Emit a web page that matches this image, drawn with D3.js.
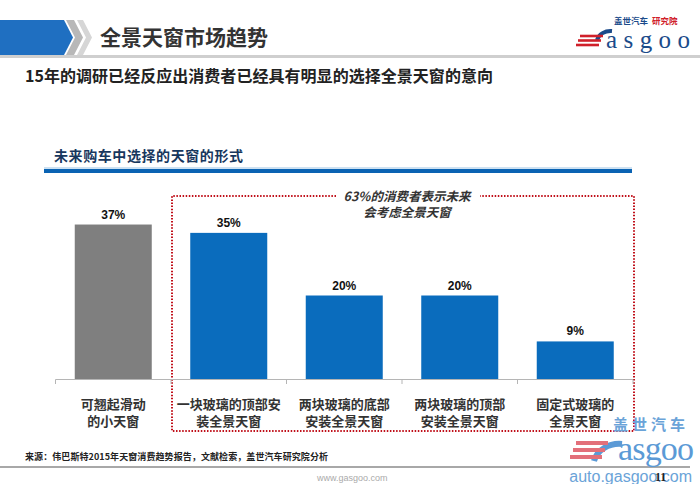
<!DOCTYPE html>
<html><head><meta charset="utf-8">
<script src="https://cdn.jsdelivr.net/npm/d3@7"></script>
<style>
html,body{margin:0;padding:0;background:#fff;}
svg{display:block;}
</style></head>
<body>
<svg id="chart" width="700" height="484"></svg>
<script>
// ---- data ----
const categories = ["可翘起滑动的小天窗","一块玻璃的顶部安装全景天窗","两块玻璃的底部安装全景天窗","两块玻璃的顶部安装全景天窗","固定式玻璃的全景天窗"];
const labelLines = [["可翘起滑动","的小天窗"],["一块玻璃的顶部安","装全景天窗"],["两块玻璃的底部","安装全景天窗"],["两块玻璃的顶部","安装全景天窗"],["固定式玻璃的","全景天窗"]];
const values = [37, 35, 20, 20, 9];
const valueLabels = ["37%","35%","20%","20%","9%"];
const title = "全景天窗市场趋势";
const headline = "15年的调研已经反应出消费者已经具有明显的选择全景天窗的意向";
const subtitle = "未来购车中选择的天窗的形式";
const boxNote = ["63%的消费者表示未来","会考虑全景天窗"];
const source = "来源：伟巴斯特2015年天窗消费趋势报告，文献检索，盖世汽车研究院分析";

const CJK = "'Noto Sans CJK SC','Noto Sans',sans-serif";
const svg = d3.select("#chart");

// ---- header ----
svg.append("rect").attr("x",0).attr("y",55).attr("width",700).attr("height",3).attr("fill","#cfcfcf");
svg.append("path").attr("d","M0,20 L64,20 L73,37.5 L64,55 L0,55 Z").attr("fill","#1f6fc1");
svg.append("path").attr("d","M66,20 L74,20 L83,37.5 L74,55 L66,55 L75,37.5 Z").attr("fill","#b8b8b8");
svg.append("path").attr("d","M77,20 L83,20 L92,37.5 L83,55 L77,55 L86,37.5 Z").attr("fill","#d6d6d6");
svg.append("text").attr("x",100).attr("y",45).attr("font-family",CJK).attr("font-weight","bold")
  .attr("font-size",21).attr("fill","#333").text(title);

// logo top-right
const logo = svg.append("g");
logo.append("text").attr("x",614).attr("y",24).attr("font-family",CJK).attr("font-weight","bold")
  .attr("font-size",8.5).attr("fill","#1b4b8a").text("盖世汽车");
logo.append("text").attr("x",652).attr("y",24).attr("font-family",CJK).attr("font-weight","bold")
  .attr("font-size",8.5).attr("fill","#d0202a").text("研究院");
logo.append("path").attr("d","M612,31 A14,12 0 0 0 597,40").attr("stroke","#1b4b8a").attr("stroke-width",4).attr("fill","none");
logo.append("text").attr("x",606).attr("y",48).attr("font-family","'Liberation Serif',serif")
  .attr("font-size",25).attr("fill","#1b4b8a").attr("textLength",84).text("asgoo");
[0,1,2].forEach(i=>logo.append("path")
  .attr("d",`M${580-i*2},${36+i*4.5} L${603-i*2},${36+i*4.5}`)
  .attr("stroke","#d0202a").attr("stroke-width",2.6));

// headline
svg.append("text").attr("x",25).attr("y",82).attr("font-family",CJK).attr("font-weight","bold")
  .attr("font-size",16).attr("fill","#222").attr("textLength",468).text(headline);

// subtitle + blue rule
svg.append("text").attr("x",54).attr("y",161).attr("font-family",CJK).attr("font-weight","bold")
  .attr("font-size",14).attr("fill","#17375e").attr("textLength",189).text(subtitle);
svg.append("rect").attr("x",44).attr("y",167.5).attr("width",588).attr("height",1).attr("fill","#9cc3e6");
svg.append("rect").attr("x",44).attr("y",169).attr("width",588).attr("height",4).attr("fill","#0a63b3");

// ---- chart ----
const x = d3.scaleBand().domain(categories).range([55.5,633]).paddingInner(1/3).paddingOuter(1/6);
const y = d3.scaleLinear().domain([0,40]).range([379,212]);

// red dotted box
const boxL = 172, boxR = 634, boxT = 196, boxB = 431;
const red = svg.append("g").attr("stroke","#c0101a").attr("stroke-width",2).attr("stroke-dasharray","1.5,1.6").attr("fill","none");
red.append("path").attr("d",`M336,${boxT} L${boxL},${boxT} L${boxL},${boxB} L${boxR},${boxB} L${boxR},${boxT} L480,${boxT}`);
svg.append("g").attr("font-family",CJK).attr("font-weight","bold").attr("font-style","italic")
  .attr("font-size",12.5).attr("fill","#333").attr("text-anchor","middle")
  .selectAll("text").data(boxNote).join("text")
  .attr("x",407).attr("y",(d,i)=>201+i*16).text(d=>d);

// axis line + ticks at band boundaries
const step = x.step();
const bounds = d3.range(categories.length+1).map(i=> i===categories.length ? x.range()[1] : x(categories[i]) - step*x.paddingInner()/2);
svg.append("line").attr("x1",x.range()[0]).attr("x2",x.range()[1]).attr("y1",379.5).attr("y2",379.5)
  .attr("stroke","#b5b5b5").attr("stroke-width",1);
svg.append("g").selectAll("line").data(bounds).join("line")
  .attr("x1",d=>d).attr("x2",d=>d).attr("y1",379.5).attr("y2",384)
  .attr("stroke","#b5b5b5");

// bars
svg.append("g").selectAll("rect").data(values).join("rect")
  .attr("x",(d,i)=>x(categories[i])).attr("width",x.bandwidth())
  .attr("y",d=>y(d)).attr("height",d=>y(0)-y(d))
  .attr("fill",(d,i)=> i===0 ? "#7f7f7f" : "#0a6cbd");

// value labels
svg.append("g").selectAll("text").data(values).join("text")
  .attr("x",(d,i)=>x(categories[i])+x.bandwidth()/2).attr("y",d=>y(d)-6)
  .attr("text-anchor","middle").attr("font-family","'Liberation Sans',Arial,sans-serif")
  .attr("font-weight","bold").attr("font-size",12).attr("fill","#111")
  .text((d,i)=>valueLabels[i]);

// category labels
const cl = svg.append("g").attr("font-family",CJK).attr("font-weight","bold").attr("font-size",13)
  .attr("fill","#333").attr("text-anchor","middle");
categories.forEach((c,i)=>{
  labelLines[i].forEach((ln,j)=>{
    cl.append("text").attr("x",x(c)+x.bandwidth()/2).attr("y",409+j*16.5).text(ln);
  });
});

// ---- footer ----
svg.append("text").attr("x",25).attr("y",460).attr("font-family",CJK).attr("font-weight","bold")
  .attr("font-size",9).attr("fill","#222").attr("textLength",303).text(source);
svg.append("rect").attr("x",0).attr("y",466).attr("width",690).attr("height",2).attr("fill","#a8a8a8");
svg.append("text").attr("x",317).attr("y",481).attr("font-family","'Liberation Sans',Arial,sans-serif")
  .attr("font-size",9).attr("fill","#aaa").text("www.gasgoo.com");

// watermark bottom-right
const wm = svg.append("g");
wm.append("text").attr("x",613).attr("y",430).attr("font-family",CJK).attr("font-weight","bold").attr("font-size",15)
  .attr("fill","#6aa3d8").attr("letter-spacing",4).text("盖世汽车");
wm.append("path").attr("d","M622,444 A26,22 0 0 0 594,461").attr("stroke","#5b9ad6").attr("stroke-width",6).attr("fill","none");
wm.append("text").attr("x",618).attr("y",460).attr("font-family","'Liberation Serif',serif").attr("font-size",34)
  .attr("fill","#5b9ad6").attr("textLength",76).text("asgoo");
[0,1,2].forEach(i=>wm.append("path")
  .attr("d",`M${576-i*3},${443+i*7} L${608-i*3},${443+i*7}`)
  .attr("stroke","#e3707a").attr("stroke-width",4));
wm.append("text").attr("x",692).attr("y",482).attr("text-anchor","end")
  .attr("font-family","'Liberation Sans',Arial,sans-serif").attr("font-size",16)
  .attr("fill","#6aa3d8").text("auto.gasgoo.com");
svg.append("text").attr("x",655).attr("y",481).attr("font-family","'Liberation Serif',serif").attr("font-weight","bold")
  .attr("font-size",12).attr("fill","#222").text("11");
</script>
</body></html>
